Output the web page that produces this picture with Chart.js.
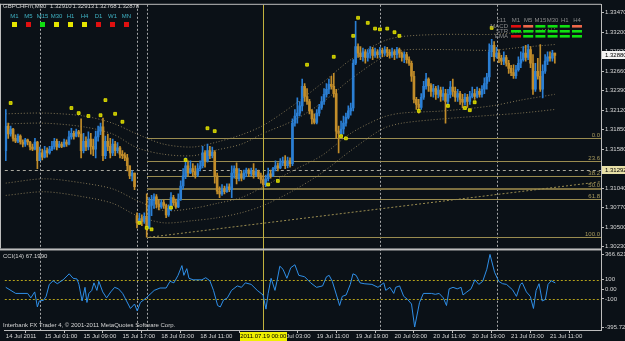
<!DOCTYPE html>
<html>
<head>
<meta charset="utf-8">
<script src="https://cdn.jsdelivr.net/npm/chart.js"></script>
<style>
  html, body { margin: 0; padding: 0; background: #0b1117; }
  canvas { display: block; }
</style>
</head>
<body>
<canvas id="mt4" width="625" height="341"></canvas>
<script>
// GBPCHFm M30, 14 Jul 17:00 .. 21 Jul 12:30 (bar index 0..226), prices in points (1/10000)
var openPts = [13156,
  13190,13179,13186,13173,13169,13176,13168,13165,13171,13168,
  13161,13158,13168,13142,13153,13147,13156,13153,13158,13162,
  13169,13161,13165,13162,13168,13165,13175,13180,13176,13182,
  13179,13156,13169,13161,13172,13162,13158,13175,13183,13189,
  13149,13169,13162,13153,13165,13156,13160,13151,13149,13146,
  13135,13121,13125,13066,13056,13062,13058,13065,13049,13080,
  13087,13092,13082,13078,13084,13080,13067,13076,13091,13084,
  13078,13089,13107,13121,13135,13125,13131,13127,13122,13131,
  13135,13153,13142,13156,13149,13154,13121,13100,13096,13103,
  13099,13106,13102,13125,13131,13117,13124,13118,13125,13129,
  13124,13128,13122,13127,13121,13116,13109,13117,13124,13121,
  13131,13135,13132,13139,13142,13135,13142,13138,13194,13204,
  13208,13218,13245,13231,13224,13211,13200,13195,13208,13216,
  13224,13234,13241,13248,13245,13235,13183,13180,13186,13194,
  13202,13211,13215,13277,13300,13291,13286,13293,13285,13291,
  13296,13288,13293,13289,13295,13291,13296,13292,13288,13293,
  13289,13296,13291,13285,13289,13282,13277,13259,13227,13220,
  13216,13230,13245,13255,13246,13238,13242,13234,13240,13231,
  13235,13224,13234,13244,13238,13230,13235,13227,13223,13230,
  13224,13231,13235,13231,13238,13234,13241,13249,13258,13293,
  13302,13286,13291,13284,13280,13285,13277,13270,13264,13260,
  13268,13277,13282,13291,13285,13296,13277,13241,13266,13259,
  13241,13266,13280,13286,13284,13291];

var closePts = [
  13190,13179,13186,13173,13169,13176,13168,13165,13171,13168,
  13161,13158,13168,13142,13153,13147,13156,13153,13158,13162,
  13169,13161,13165,13162,13168,13165,13175,13180,13176,13182,
  13179,13156,13169,13161,13172,13162,13158,13175,13183,13189,
  13149,13169,13162,13153,13165,13156,13160,13151,13149,13146,
  13135,13121,13125,13106,13056,13062,13058,13065,13049,13080,
  13087,13092,13082,13078,13084,13080,13067,13076,13091,13084,
  13078,13089,13107,13121,13135,13125,13131,13127,13122,13131,
  13135,13153,13142,13156,13149,13154,13121,13100,13096,13103,
  13099,13106,13102,13125,13131,13117,13124,13118,13125,13129,
  13124,13128,13122,13127,13121,13116,13109,13117,13124,13121,
  13131,13135,13132,13139,13142,13135,13142,13138,13194,13204,
  13208,13218,13245,13231,13224,13211,13200,13195,13208,13216,
  13224,13234,13241,13248,13245,13235,13183,13180,13186,13194,
  13202,13211,13215,13277,13300,13291,13286,13293,13285,13291,
  13296,13288,13293,13289,13295,13291,13296,13292,13288,13293,
  13289,13296,13291,13285,13289,13282,13277,13259,13227,13220,
  13216,13230,13245,13255,13246,13238,13242,13234,13240,13231,
  13235,13224,13234,13244,13238,13230,13235,13227,13223,13230,
  13224,13231,13235,13231,13238,13234,13241,13249,13258,13293,
  13302,13286,13291,13284,13280,13285,13277,13270,13264,13260,
  13268,13277,13282,13291,13285,13296,13277,13241,13266,13259,
  13241,13266,13280,13286,13284,13291,13288];

var highPts = [
  13213,13194,13190,13187,13178,13179,13178,13171,13173,13172,
  13169,13165,13173,13169,13161,13158,13162,13160,13162,13169,
  13173,13172,13169,13168,13172,13171,13183,13187,13183,13186,
  13184,13200,13180,13175,13182,13180,13172,13183,13190,13194,
  13201,13176,13179,13173,13172,13169,13167,13162,13156,13153,
  13151,13135,13128,13125,13070,13069,13067,13070,13096,13091,
  13094,13096,13095,13087,13088,13087,13082,13081,13098,13094,
  13089,13096,13114,13131,13146,13142,13142,13138,13135,13138,
  13142,13162,13156,13165,13162,13161,13156,13125,13106,13109,
  13107,13110,13110,13135,13135,13139,13131,13128,13129,13132,
  13131,13132,13138,13131,13129,13125,13122,13122,13132,13129,
  13133,13142,13139,13145,13147,13149,13147,13146,13200,13213,
  13229,13224,13255,13249,13242,13227,13213,13207,13213,13220,
  13231,13242,13249,13255,13259,13263,13241,13190,13197,13204,
  13208,13218,13222,13282,13335,13304,13300,13298,13296,13296,
  13300,13299,13298,13296,13299,13298,13300,13299,13296,13298,
  13296,13299,13298,13293,13293,13292,13286,13280,13266,13230,
  13227,13235,13252,13263,13257,13249,13248,13245,13246,13244,
  13244,13241,13241,13252,13255,13244,13241,13238,13234,13235,
  13234,13238,13244,13241,13244,13242,13246,13257,13263,13304,
  13310,13307,13299,13296,13288,13293,13288,13281,13274,13275,
  13274,13286,13293,13300,13302,13303,13300,13289,13277,13284,
  13303,13275,13289,13293,13293,13295,13291];

var lowPts = [
  13142,13173,13176,13169,13167,13167,13165,13161,13162,13164,
  13157,13156,13157,13131,13142,13143,13146,13147,13151,13156,
  13158,13157,13160,13160,13161,13162,13164,13172,13172,13175,
  13175,13146,13153,13156,13157,13151,13149,13146,13169,13178,
  13142,13145,13156,13146,13149,13149,13153,13146,13145,13142,
  13128,13117,13114,13102,13049,13054,13052,13055,13036,13048,
  13066,13076,13077,13074,13076,13076,13063,13065,13073,13080,
  13076,13077,13087,13103,13117,13121,13124,13121,13118,13120,
  13128,13132,13133,13140,13145,13146,13111,13096,13091,13094,
  13096,13098,13099,13091,13118,13110,13114,13114,13116,13120,
  13120,13121,13118,13120,13117,13111,13105,13106,13114,13118,
  13120,13128,13128,13131,13135,13131,13132,13133,13135,13190,
  13194,13204,13211,13224,13220,13207,13193,13193,13193,13204,
  13213,13220,13230,13235,13241,13230,13173,13153,13176,13179,
  13190,13200,13205,13211,13275,13285,13282,13280,13277,13280,
  13284,13282,13285,13284,13285,13286,13288,13286,13284,13285,
  13282,13284,13285,13280,13278,13277,13274,13252,13222,13213,
  13208,13213,13227,13241,13238,13231,13230,13227,13229,13224,
  13226,13194,13219,13229,13231,13224,13224,13220,13215,13219,
  13216,13220,13229,13227,13229,13230,13230,13235,13241,13252,
  13286,13280,13284,13278,13275,13275,13273,13263,13260,13256,
  13256,13266,13271,13280,13280,13282,13271,13234,13238,13255,
  13238,13229,13263,13275,13280,13280,13277];

// dotted bands (bar index, points)
var envIdx = [0,16,32,44,54,65,77,87,97,106,118,130,142,155,163,180,200,212,226];
var envUpper2 = [13207,13208,13204,13194,13179,13165,13161,13168,13178,13191,13218,13249,13282,13307,13314,13317,13317,13320,13325];
var envUpper1 = [13193,13194,13189,13179,13160,13151,13149,13157,13165,13180,13197,13222,13255,13285,13295,13296,13295,13299,13303];
var envLower1 = [13111,13117,13111,13103,13087,13073,13076,13083,13091,13106,13128,13149,13180,13202,13208,13211,13218,13226,13234];
var envLower2 = [13094,13099,13092,13083,13066,13056,13059,13063,13070,13080,13100,13125,13156,13186,13194,13200,13205,13208,13213];

// yellow markers
var dotIdx = [2,27,30,34,39,41,45,48,55,58,60,68,74,83,86,108,112,124,135,138,140,143,145,149,152,154,157,160,162,170,182,189,191,193,200];
var dotPts = [13222,13215,13208,13204,13205,13226,13207,13196,13056,13049,13047,13077,13143,13187,13183,13109,13114,13275,13286,13176,13173,13315,13340,13333,13325,13324,13325,13320,13315,13211,13218,13215,13212,13223,13326];

// fibonacci
var fibHigh = 1.31734, fibLow = 1.30360, fibStartIdx = 58;
var fibLevels = [0, 23.6, 38.2, 50, 61.8, 100];
var fibText = ['0.0', '23.6', '38.2', '50.0', '61.8', '100.0'];
var fibTrendIdx = [59, 245];
var fibTrendPts = [13036, 13113];

// CCI(14)
var cciIdx = [0,4.1,9,10.3,11.9,13,13.8,15.5,16.6,17.9,19.5,21.2,23.6,26.1,27.7,29.3,30.1,31.4,32.6,33.4,
  34.2,35.4,36.3,37.5,38.3,39.9,41.5,43.2,44.8,46.4,48.1,49.7,51.3,53,54.1,55.4,57.8,61.1,63.5,66,
  67.6,69.2,70.9,72.5,73.3,74.5,75.4,77.1,80.7,82.3,84,85.5,87.2,88.3,89.6,91.2,92.9,95.3,97,98.6,
  101,103.5,105.9,107.1,108,109.2,110.8,111.6,112.8,114.1,115.7,117.3,119,120.6,123,125.5,127.9,130.4,132,133.1,
  134.4,136.1,137.4,138.5,140.1,141.8,142.9,144.2,145.8,147.5,150.7,153.2,155.6,156.4,158.1,159.7,160.5,162.1,163.8,165.4,
  167,168.3,170.3,171.9,175.2,176.8,178.4,180.1,181.4,182.5,184.1,185.8,187.4,188.2,189.8,191.5,193.1,194.7,196.3,198,
  199.3,201.2,202.9,204.5,206.1,208.6,210.2,211.8,212.6,214.3,215.9,217.2,218.3,219.5,220.8,222.1,223.2,224.5,226.2];
var cciVal = [21,-43,-43,-90,-27,-185,-122,-116,-74,52,90,59,100,163,116,109,52,-122,21,-138,
  -43,-11,68,-11,84,-27,-90,-27,21,5,-43,-122,-201,-154,-227,-138,-90,-11,14,14,
  84,68,147,249,147,217,116,100,100,122,90,-11,-170,-185,-113,-90,-11,36,21,68,
  52,-11,-59,-208,-43,116,-11,84,243,211,116,227,258,147,132,68,21,36,132,147,
  84,-59,-170,-74,-59,52,163,147,68,59,52,21,68,-11,21,-43,21,36,-74,-106,
  -154,-395.7,-138,-43,-43,-52,-43,-90,-170,5,21,5,21,-59,-27,5,100,52,84,211,
  366.6,179,84,59,52,-5,-74,52,68,-27,-74,-201,-11,59,-122,-106,52,90,67.2];
var cciLevels = [100, -100];

// axes
var priceTicks = [1.33470,1.33200,1.32930,1.32660,1.32390,1.32120,1.31850,1.31580,1.31310,1.31040,1.30770,1.30500,1.30230];
var cciTicks = [366.6215, 100, 0, -100, -395.7272];
var cciTickText = ['366.6215', '100', '0.00', '-100', '-395.7272'];
var timeTickIdx = [0,16,32,48,64,80,112,128,144,160,176,192,208,224];
var timeTickText = ['14 Jul 2011','15 Jul 01:00','15 Jul 09:00','15 Jul 17:00','18 Jul 03:00','18 Jul 11:00',
  '19 Jul 03:00','19 Jul 11:00','19 Jul 19:00','20 Jul 03:00','20 Jul 11:00','20 Jul 19:00','21 Jul 03:00','21 Jul 11:00'];
var daySepIdx = [14, 54, 58, 106, 154, 202];
var markIdx = 106, markText = '2011.07.19 00:00';
var hLinePrice = 1.31292;

// panels
var titleSymbol = 'GBPCHFm,M30';
var titleOHLC = ['1.32910', '1.32913', '1.32768', '1.32878'];
var tfNames = ['M1','M5','M15','M30','H1','H4','D1','W1','MN'];
var tfState = ['y','r','g','y','y','y','r','r','r'];
var trendCols = ['M1','M5','M15','M30','H1','H4'];
var trendRows = ['MACD', 'STR', 'EMA'];
var trendState = [['r','s','g','g','g','s'], ['g','g','g','g','g','g'], ['r','g','g','g','g','g']];
var cciTitle = 'CCI(14) 67.1990';
var copyright = 'Interbank FX Trader 4, \u00A9 2001-2011 MetaQuotes Software Corp.';

// #region styles
var BG = '#0b1117', BULL = '#2b7fd4', BEAR = '#c28d2a';
var AXIS = '#bdbdbd', TXT = '#d6d6d6', FIB = '#9a8c50', BAND = 'rgba(150,135,95,0.85)';
var FONT = '"Liberation Sans", Arial, sans-serif';
var STATE_COL = { y: '#e6e600', r: '#e01010', g: '#10e010', s: '#f0684a' };
// #endregion

var pt = function (v) { return v / 10000; };

var bars = openPts.map(function (o, i) { return i; });
var candleCol = bars.map(function (i) { return closePts[i] >= openPts[i] ? BULL : BEAR; });
var wickData = bars.map(function (i) { return { x: i, y: [pt(lowPts[i]), pt(highPts[i])] }; });
var bodyData = bars.map(function (i) { return { x: i, y: [pt(openPts[i]), pt(closePts[i])] }; });

function band(vals) {
    return {
        type: 'line', data: envIdx.map(function (x, k) { return { x: x, y: pt(vals[k]) }; }),
        borderColor: BAND, borderWidth: 1, borderDash: [1, 2], pointRadius: 0, tension: 0.3,
        yAxisID: 'y', order: 6
    };
}

var overlay = {
    id: 'overlay',
    beforeDraw: function (c) {
        var g = c.ctx;
        g.save();
        g.fillStyle = BG;
        g.fillRect(0, 0, c.width, c.height);
        g.restore();
    },
    beforeDatasetsDraw: function (c) {
        var g = c.ctx, a = c.chartArea, sx = c.scales.x, sy = c.scales.y, sc = c.scales.yc;
        g.save();
        g.lineWidth = 1;

        // day separators
        g.strokeStyle = 'rgba(205,205,205,0.8)';
        g.setLineDash([2, 2]);
        daySepIdx.forEach(function (i) {
            var px = Math.round(sx.getPixelForValue(i)) + 0.5;
            g.beginPath(); g.moveTo(px, sy.top); g.lineTo(px, sc.bottom); g.stroke();
        });

        // CCI levels
        g.strokeStyle = '#b4a21a';
        cciLevels.forEach(function (v) {
            var py = Math.round(sc.getPixelForValue(v)) + 0.5;
            g.beginPath(); g.moveTo(a.left, py); g.lineTo(a.right, py); g.stroke();
        });

        // horizontal line
        g.strokeStyle = '#a9a89e';
        g.setLineDash([3, 3]);
        var hy = Math.round(sy.getPixelForValue(hLinePrice)) + 0.5;
        g.beginPath(); g.moveTo(a.left, hy); g.lineTo(a.right, hy); g.stroke();
        g.setLineDash([]);

        // fibonacci levels
        var fx = Math.round(sx.getPixelForValue(fibStartIdx));
        g.font = '6px ' + FONT;
        g.textAlign = 'right';
        g.textBaseline = 'bottom';
        fibLevels.forEach(function (lv, k) {
            var py = Math.round(sy.getPixelForValue(fibHigh - (fibHigh - fibLow) * lv / 100));
            g.fillStyle = lv === 50 ? '#7d7040' : FIB;
            g.fillRect(fx, py, a.right - fx, lv === 50 ? 2 : 1);
            g.fillStyle = '#a99b5e';
            g.fillText(fibText[k], a.right - 1, py);
        });

        // vertical line object
        var vx = Math.round(sx.getPixelForValue(markIdx));
        g.fillStyle = '#c2b23e';
        g.fillRect(vx, sy.top, 1, sc.bottom - sy.top);
        g.restore();
    },
    afterDraw: function (c) {
        var g = c.ctx, a = c.chartArea, sx = c.scales.x, sy = c.scales.y, sc = c.scales.yc;
        g.save();

        // frame
        g.fillStyle = AXIS;
        g.fillRect(0, a.top - 1, a.right, 1);
        g.fillRect(0, a.top - 1, 1, sy.bottom - a.top + 1);
        g.fillRect(0, sy.bottom, a.right + 1, 2);

        g.font = '6px ' + FONT;
        g.textBaseline = 'middle';
        g.textAlign = 'left';
        g.fillStyle = TXT;
        g.fillText(titleSymbol, 3, 6);
        titleOHLC.forEach(function (t, k) { g.fillText(t, 50 + k * 22.5, 6); });

        // timeframe squares
        tfNames.forEach(function (n, k) {
            var cx = 14 + k * 14;
            g.textAlign = 'center';
            g.fillStyle = '#3fb2c4';
            g.fillText(n, cx + 0.5, 16.5);
            g.fillStyle = STATE_COL[tfState[k]];
            g.fillRect(cx - 2, 22, 5, 5);
        });

        // trend panel
        g.fillStyle = '#8e8e8e';
        g.textAlign = 'right';
        g.fillText('c11', 506, 20);
        trendRows.forEach(function (r, j) { g.fillText(r, 508, 26 + j * 5); });
        g.textAlign = 'center';
        trendCols.forEach(function (n, k) { g.fillText(n, 516 + k * 12.2, 20); });
        trendState.forEach(function (row, j) {
            row.forEach(function (s, k) {
                g.fillStyle = STATE_COL[s];
                g.fillRect(511 + k * 12.2, 25 + j * 5, 10, 2.6);
            });
        });

        // indicator texts
        g.textAlign = 'left';
        g.fillStyle = TXT;
        g.fillText(cciTitle, 3, 256);
        g.fillText(copyright, 3, 325.5);

        // price boxes on the axis
        function priceBox(p, fill) {
            var py = Math.round(sy.getPixelForValue(p));
            g.fillStyle = fill;
            g.fillRect(a.right + 1, py - 4, c.width - a.right - 1, 8);
            g.fillStyle = '#000';
            g.textAlign = 'left';
            g.fillText(p.toFixed(5), a.right + 4, py);
        }
        priceBox(pt(closePts[closePts.length - 1]), '#f4f4f4');
        priceBox(hLinePrice, '#e8e0a8');

        // time label of the vertical line
        var mx = sx.getPixelForValue(markIdx);
        g.fillStyle = '#f0f000';
        g.fillRect(Math.round(mx - 23.5), sc.bottom + 2, 47, 9);
        g.fillStyle = '#000';
        g.textAlign = 'center';
        g.fillText(markText, mx, sc.bottom + 6.5);
        g.restore();
    }
};

Chart.defaults.font.family = FONT;

new Chart(document.getElementById('mt4'), {
    type: 'bar',
    data: {
        datasets: [
            band(envUpper2), band(envUpper1), band(envLower1), band(envLower2),
            {
                type: 'line', data: fibTrendIdx.map(function (x, k) { return { x: x, y: pt(fibTrendPts[k]) }; }),
                borderColor: FIB, borderWidth: 1, borderDash: [2, 2], pointRadius: 0, yAxisID: 'y', order: 6
            },
            { type: 'bar', data: wickData, backgroundColor: candleCol, barThickness: 1, grouped: false, yAxisID: 'y', order: 5 },
            { type: 'bar', data: bodyData, backgroundColor: candleCol, barThickness: 2, minBarLength: 1, grouped: false, yAxisID: 'y', order: 4 },
            {
                type: 'scatter', data: dotIdx.map(function (x, k) { return { x: x, y: pt(dotPts[k]) }; }),
                pointStyle: 'rect', pointRadius: 2, backgroundColor: '#b8b800', borderColor: '#ecec00', borderWidth: 0.8,
                yAxisID: 'y', order: 2
            },
            {
                type: 'line', data: cciIdx.map(function (x, k) { return { x: x, y: cciVal[k] }; }),
                borderColor: '#2f8fe8', borderWidth: 1, pointRadius: 0, tension: 0, yAxisID: 'yc', order: 1
            }
        ]
    },
    options: {
        responsive: false,
        animation: false,
        events: [],
        devicePixelRatio: 1,
        layout: { padding: { top: 3, left: 1, right: 0, bottom: 0 } },
        plugins: { legend: { display: false }, tooltip: { enabled: false } },
        scales: {
            x: {
                type: 'linear', min: -0.41, max: 245, offset: false,
                afterBuildTicks: function (s) { s.ticks = timeTickIdx.map(function (v) { return { value: v }; }); },
                afterFit: function (s) { s.height = 11; },
                grid: { drawOnChartArea: false, drawTicks: true, tickLength: 3, color: AXIS },
                border: { display: true, color: AXIS },
                ticks: {
                    autoSkip: false, maxRotation: 0, align: 'start', padding: 0, color: TXT,
                    font: { size: 6 },
                    callback: function (v) { return timeTickText[timeTickIdx.indexOf(v)]; }
                }
            },
            y: {
                type: 'linear', position: 'right', stack: 'pane', stackWeight: 245,
                min: 1.30205, max: 1.33580,
                afterBuildTicks: function (s) { s.ticks = priceTicks.map(function (v) { return { value: v }; }); },
                afterFit: function (s) { s.width = 24; },
                grid: { drawOnChartArea: false, tickLength: 3, color: AXIS },
                border: { display: true, color: AXIS },
                ticks: { autoSkip: false, padding: 1, color: TXT, font: { size: 6 }, callback: function (v) { return v.toFixed(5); } }
            },
            yc: {
                type: 'linear', position: 'right', stack: 'pane', stackWeight: 82,
                min: -427, max: 429.3,
                afterBuildTicks: function (s) { s.ticks = cciTicks.map(function (v) { return { value: v }; }); },
                afterFit: function (s) { s.width = 24; },
                grid: { drawOnChartArea: false, tickLength: 3, color: AXIS },
                border: { display: true, color: AXIS },
                ticks: { autoSkip: false, padding: 1, color: TXT, font: { size: 6 }, callback: function (v, i) { return cciTickText[i]; } }
            }
        }
    },
    plugins: [overlay]
});
</script>
</body>
</html>
